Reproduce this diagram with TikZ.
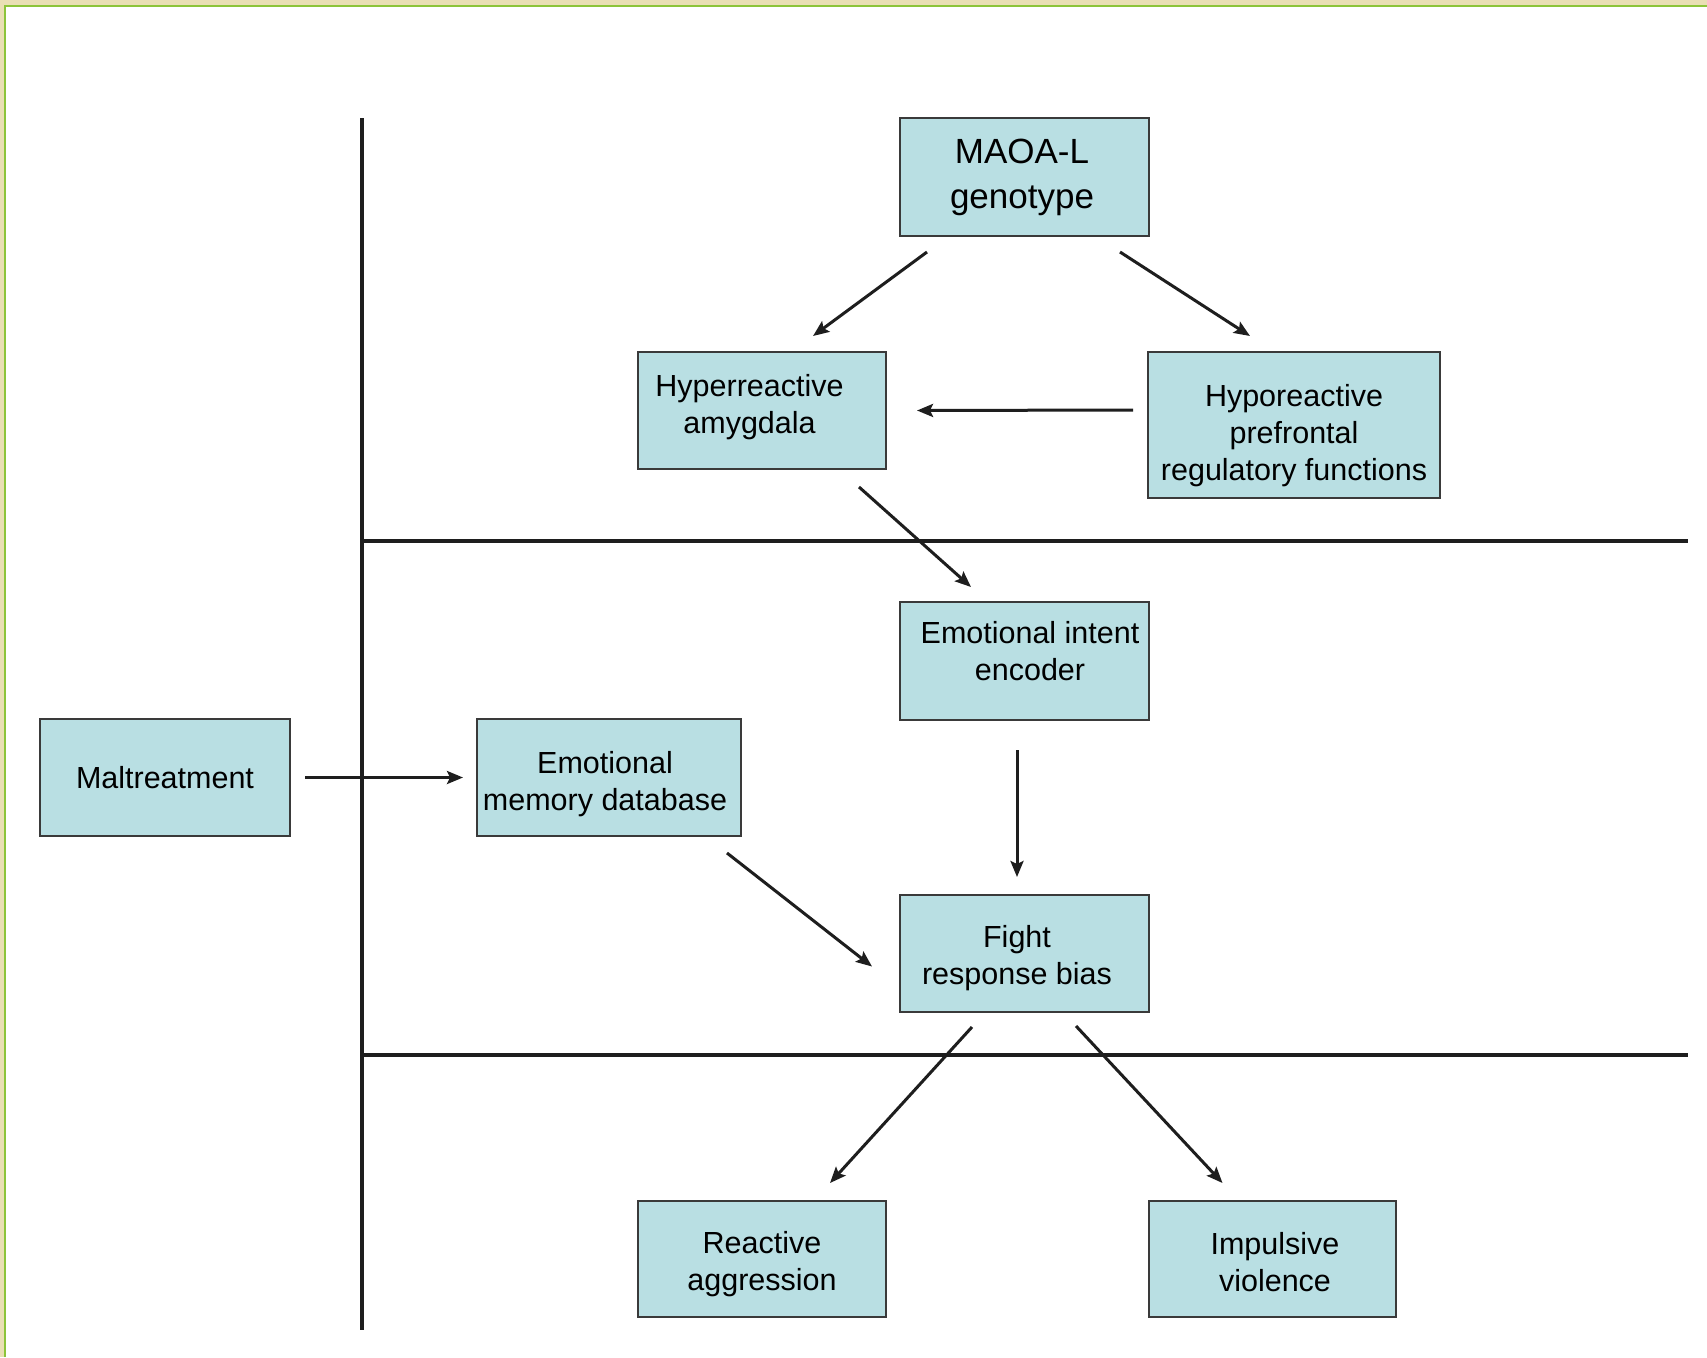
\documentclass[tikz,border=0pt]{standalone}
\usepackage{fontspec}
\setmainfont{Liberation Sans}
\usetikzlibrary{arrows.meta,calc}
\definecolor{boxfill}{HTML}{B9DFE3}
\definecolor{boxline}{HTML}{3A3A3A}
\definecolor{inkline}{HTML}{1E1E1E}
\definecolor{framegreen}{HTML}{8CC43A}
\definecolor{beige}{HTML}{E9DFB4}
\tikzset{
  box/.style={draw=boxline, line width=2pt, fill=boxfill, inner sep=0pt, anchor=center},
  txt/.style={inner sep=0pt, align=center, anchor=center, font=\fontsize{30.5}{37}\selectfont},
  arr/.style={draw=inkline, line width=3pt, -{Stealth[length=16pt,width=13pt,inset=3pt]}},
  divider/.style={draw=inkline, line width=4.5pt}
}
\begin{document}
\begin{tikzpicture}[x=1pt,y=-1pt]
\useasboundingbox (0,0) rectangle (1707,1357);
% background frame
\fill[beige] (0,0) rectangle (1707,1357);
\fill[white] (5,6) rectangle (1707,1357);
\draw[framegreen, line width=2.5pt] (5,1357) -- (5,6) -- (1707,6);
% dividers
\draw[divider] (362,118) -- (362,1330);
\draw[divider] (362,541) -- (1688,541);
\draw[divider] (362,1055) -- (1688,1055);
% boxes
\node[box, minimum width=249pt, minimum height=118pt] (maoa) at (1024.5,177) {};
\node[box, minimum width=248pt, minimum height=117pt] (amyg) at (762,410.5) {};
\node[box, minimum width=292pt, minimum height=146pt] (hypo) at (1294,425) {};
\node[box, minimum width=249pt, minimum height=118pt] (enc) at (1024.5,661) {};
\node[box, minimum width=250pt, minimum height=117pt] (malt) at (165,777.5) {};
\node[box, minimum width=264pt, minimum height=117pt] (mem) at (609,777.5) {};
\node[box, minimum width=249pt, minimum height=117pt] (fight) at (1024.5,953.5) {};
\node[box, minimum width=248pt, minimum height=116pt] (react) at (762,1259) {};
\node[box, minimum width=247pt, minimum height=116pt] (impul) at (1272.5,1259) {};
% texts
\node[txt, font=\fontsize{35}{45}\selectfont] (maoa-t) at ($(maoa)+(-2.5,0)$) {MAOA-L\\genotype};
\node[txt] (amyg-t) at ($(amyg)+(-12.5,-3)$) {Hyperreactive\\amygdala};
\node[txt] (hypo-t) at ($(hypo)+(0,11)$) {Hyporeactive\\prefrontal\\regulatory functions};
\node[txt] (enc-t) at ($(enc)+(5.5,-10)$) {Emotional intent\\encoder};
\node[txt] (malt-t) at (malt) {Maltreatment};
\node[txt] (mem-t) at ($(mem)+(-4,6.5)$) {Emotional\\memory database};
\node[txt] (fight-t) at ($(fight)+(-7.5,4.5)$) {Fight\\response bias};
\node[txt] (react-t) at ($(react)+(0,5.5)$) {Reactive\\aggression};
\node[txt] (impul-t) at ($(impul)+(2.5,3.5)$) {Impulsive\\violence};
% connectors
\draw[arr] ($(maoa.south west)+(28,15)$) -- ($(amyg.north)+(51,-15)$);
\draw[arr] ($(maoa.south east)+(-30,15)$) -- ($(hypo.north)+(-44,-15)$);
\draw[arr] ($(hypo.west)+(-14,-15)$) -- ($(amyg.east)+(30,0)$);
\draw[arr] ($(amyg.south east)+(-28,17)$) -- ($(enc.north west)+(72,-14)$);
\draw[arr] ($(enc.south)+(-7.5,29)$) -- ($(fight.north)+(-7.5,-17)$);
\draw[arr] ($(malt.east)+(14,0)$) -- ($(mem.west)+(-13,0)$);
\draw[arr] ($(mem.south east)+(-15,16)$) -- ($(fight.west)+(-27,13)$);
\draw[arr] ($(fight.south)+(-52.5,14)$) -- ($(react.north)+(68,-17)$);
\draw[arr] ($(fight.south)+(51.5,13)$) -- ($(impul.north)+(-50,-17)$);
\end{tikzpicture}
\end{document}
